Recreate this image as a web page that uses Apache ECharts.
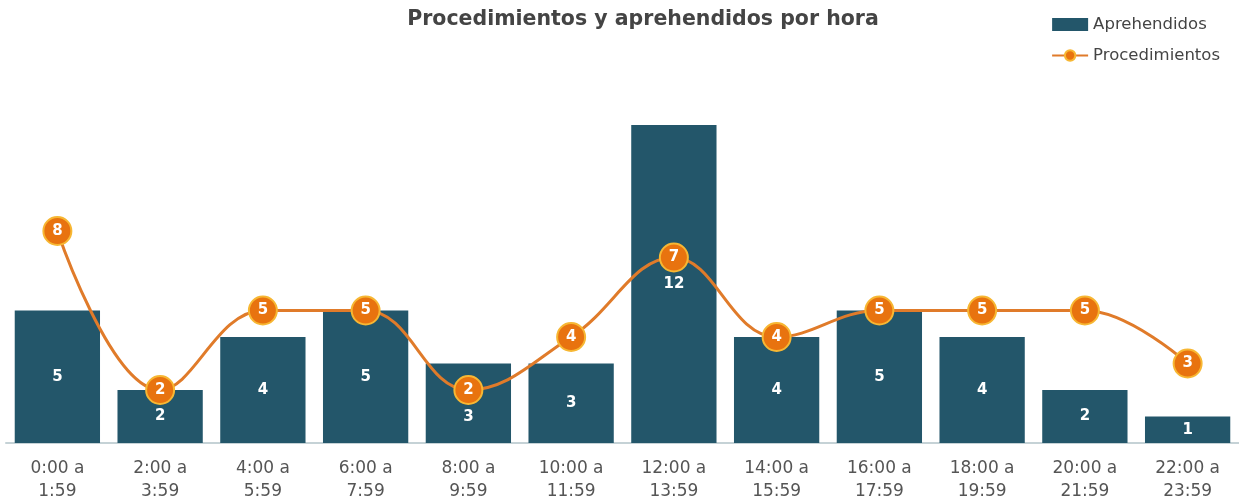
<!DOCTYPE html>
<html>
<head>
<meta charset="utf-8">
<script src="https://cdn.jsdelivr.net/npm/echarts@6/dist/echarts.min.js"></script>
<style>
  html, body { margin: 0; padding: 0; background: #fff; }
  #chart { width: 1239px; height: 500px; }
</style>
</head>
<body>
<div id="chart"></div>
<script>
// franjas horarias
const horas = [
  "0:00 a\n1:59", "2:00 a\n3:59", "4:00 a\n5:59", "6:00 a\n7:59",
  "8:00 a\n9:59", "10:00 a\n11:59", "12:00 a\n13:59", "14:00 a\n15:59",
  "16:00 a\n17:59", "18:00 a\n19:59", "20:00 a\n21:59", "22:00 a\n23:59"
];
const aprehendidos = [5, 2, 4, 5, 3, 3, 12, 4, 5, 4, 2, 1];
const procedimientos = [8, 2, 5, 5, 2, 4, 7, 4, 5, 5, 5, 3];

const FONT = "DejaVu Sans";

const chart = echarts.init(document.getElementById("chart"));

// la etiqueta de 8:00 queda tapada por el marcador, se baja un poco
const barData = aprehendidos.map((v, i) =>
  i === 4 ? { value: v, label: { offset: [0, 14] } } : v
);

const option = {
  animation: false,
  title: {
    text: "Procedimientos y aprehendidos por hora",
    left: 638,
    top: 4,
    textAlign: "center",
    textStyle: {
      color: "#444",
      fontSize: 20.5,
      fontWeight: "bold",
      fontFamily: FONT,
    },
  },
  legend: {
    orient: "vertical",
    right: 14,
    top: 11,
    itemGap: 14,
    itemWidth: 36,
    itemHeight: 13,
    textStyle: { color: "#444", fontSize: 16.5, fontFamily: FONT },
    data: [
      { name: "Aprehendidos", icon: "rect" },
      { name: "Procedimientos" },
    ],
  },
  grid: {
    left: 6,
    right: 0,
    top: 125,
    bottom: 57,
    outerBoundsMode: "none",
  },
  xAxis: {
    type: "category",
    data: horas,
    axisLine: { lineStyle: { color: "#c5d2d6", width: 2 } },
    axisTick: { show: false },
    axisLabel: {
      color: "#555",
      fontSize: 17,
      lineHeight: 23,
      margin: 14,
      fontFamily: FONT,
      interval: 0,
    },
  },
  yAxis: {
    type: "value",
    min: 0,
    max: 12,
    show: false,
    splitLine: { show: false },
  },
  series: [
    {
      name: "Aprehendidos",
      type: "bar",
      barWidth: "83%",
      itemStyle: { color: "#23566a" },
      label: {
        show: true,
        position: "inside",
        color: "#fff",
        fontSize: 15,
        fontWeight: "bold",
        fontFamily: FONT,
      },
      data: barData,
    },
    {
      name: "Procedimientos",
      type: "line",
      smooth: 0.4,
      symbol: "circle",
      symbolSize: 28,
      z: 5,
      lineStyle: { color: "#e07b2a", width: 3 },
      itemStyle: {
        color: "#e8730f",
        borderColor: "#f7b733",
        borderWidth: 2,
      },
      label: {
        show: true,
        position: "inside",
        color: "#fff",
        fontSize: 15,
        fontWeight: "bold",
        fontFamily: FONT,
      },
      data: procedimientos,
    },
  ],
};

chart.setOption(option);
</script>
</body>
</html>
